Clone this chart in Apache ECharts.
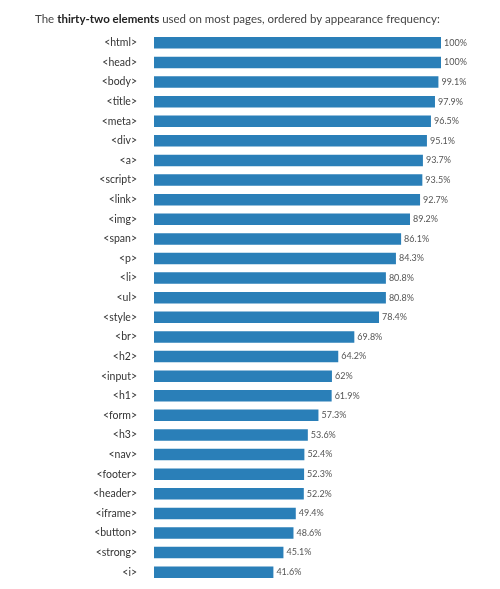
<!DOCTYPE html>
<html>
<head>
<meta charset="utf-8">
<script src="https://cdn.jsdelivr.net/npm/echarts@6/dist/echarts.min.js"></script>
<style>
  html, body { margin: 0; padding: 0; background: #fff; }
  #chart { width: 500px; height: 589px; }
</style>
</head>
<body>
<div id="chart"></div>
<script>
// 元素名称（从上到下）
var elements = ['<html>', '<head>', '<body>', '<title>', '<meta>', '<div>', '<a>',
  '<script>', '<link>', '<img>', '<span>', '<p>', '<li>', '<ul>', '<style>', '<br>',
  '<h2>', '<input>', '<h1>', '<form>', '<h3>', '<nav>', '<footer>', '<header>',
  '<iframe>', '<button>', '<strong>', '<i>'];
// 出现频率 %
var frequency = [100, 100, 99.1, 97.9, 96.5, 95.1, 93.7, 93.5, 92.7, 89.2, 86.1, 84.3,
  80.8, 80.8, 78.4, 69.8, 64.2, 62, 61.9, 57.3, 53.6, 52.4, 52.3, 52.2, 49.4, 48.6,
  45.1, 41.6];

var myChart = echarts.init(document.getElementById('chart'));

myChart.setOption({
  animation: false,
  textStyle: { fontFamily: 'Lato' },
  title: {
    text: '{n|The }{b|thirty-two elements}{n| used on most pages, ordered by appearance frequency:}',
    left: 30,
    top: 8,
    textStyle: {
      fontWeight: 'normal',
      fontSize: 11.5,
      rich: {
        n: { fontFamily: 'Lato', fontSize: 11.5, color: '#444', fontWeight: 'normal' },
        b: { fontFamily: 'Lato', fontSize: 11.5, color: '#222', fontWeight: 'bold' }
      }
    }
  },
  grid: {
    left: 154,
    right: 59,
    top: 33,
    bottom: 7,
    containLabel: false
  },
  xAxis: {
    type: 'value',
    min: 0,
    max: 100,
    show: false
  },
  yAxis: {
    type: 'category',
    inverse: true,
    data: elements,
    axisLine: { show: false },
    axisTick: { show: false },
    axisLabel: {
      margin: 17,
      color: '#333',
      fontSize: 10.5,
      fontFamily: 'Lato'
    }
  },
  series: [{
    type: 'bar',
    data: frequency,
    barWidth: 11.5,
    itemStyle: { color: '#2a7fb8' },
    label: {
      show: true,
      position: 'right',
      distance: 3,
      color: '#555',
      fontSize: 9,
      fontFamily: 'Lato',
      formatter: function(p) { return p.value + '%'; }
    }
  }]
});
</script>
</body>
</html>
